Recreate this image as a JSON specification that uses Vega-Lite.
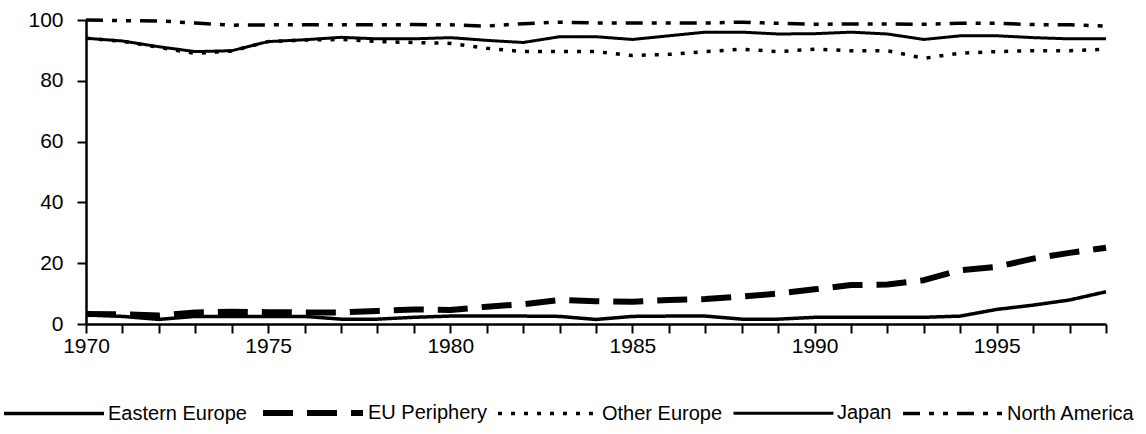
{
  "$schema": "https://vega.github.io/schema/vega-lite/v6.json",
  "width": 1020,
  "height": 304,
  "autosize": {"type": "none"},
  "padding": {"left": 86, "top": 20, "right": 40, "bottom": 110},
  "background": "white",
  "config": {
    "view": {"stroke": null},
    "font": "Liberation Sans",
    "axis": {
      "labelFont": "Liberation Sans",
      "labelFontSize": 21,
      "labelColor": "black",
      "domainColor": "black",
      "domainWidth": 2.5,
      "tickColor": "black",
      "tickWidth": 2,
      "tickSize": 9,
      "grid": false,
      "title": null
    }
  },
  "data": {
    "values": [
      {"year": 1970, "Eastern Europe": 3.0, "EU Periphery": 3.3, "Other Europe": 94.0, "Japan": 94.0, "North America": 100.0},
      {"year": 1971, "Eastern Europe": 2.5, "EU Periphery": 3.2, "Other Europe": 93.0, "Japan": 93.1, "North America": 99.8},
      {"year": 1972, "Eastern Europe": 1.5, "EU Periphery": 2.8, "Other Europe": 91.0, "Japan": 91.2, "North America": 99.7},
      {"year": 1973, "Eastern Europe": 2.5, "EU Periphery": 3.8, "Other Europe": 89.0, "Japan": 89.6, "North America": 99.0},
      {"year": 1974, "Eastern Europe": 2.5, "EU Periphery": 4.0, "Other Europe": 89.8, "Japan": 89.9, "North America": 98.3},
      {"year": 1975, "Eastern Europe": 2.5, "EU Periphery": 3.9, "Other Europe": 92.9, "Japan": 92.9, "North America": 98.4},
      {"year": 1976, "Eastern Europe": 2.5, "EU Periphery": 3.8, "Other Europe": 93.4, "Japan": 93.5, "North America": 98.4},
      {"year": 1977, "Eastern Europe": 1.6, "EU Periphery": 3.8, "Other Europe": 93.6, "Japan": 94.3, "North America": 98.4},
      {"year": 1978, "Eastern Europe": 1.6, "EU Periphery": 4.3, "Other Europe": 92.9, "Japan": 93.8, "North America": 98.4},
      {"year": 1979, "Eastern Europe": 2.2, "EU Periphery": 4.8, "Other Europe": 92.6, "Japan": 93.8, "North America": 98.5},
      {"year": 1980, "Eastern Europe": 2.6, "EU Periphery": 4.6, "Other Europe": 92.3, "Japan": 94.2, "North America": 98.4},
      {"year": 1981, "Eastern Europe": 2.6, "EU Periphery": 5.7, "Other Europe": 90.7, "Japan": 93.3, "North America": 98.0},
      {"year": 1982, "Eastern Europe": 2.6, "EU Periphery": 6.5, "Other Europe": 89.6, "Japan": 92.6, "North America": 98.8},
      {"year": 1983, "Eastern Europe": 2.5, "EU Periphery": 7.9, "Other Europe": 89.6, "Japan": 94.5, "North America": 99.3},
      {"year": 1984, "Eastern Europe": 1.5, "EU Periphery": 7.5, "Other Europe": 89.6, "Japan": 94.5, "North America": 99.0},
      {"year": 1985, "Eastern Europe": 2.5, "EU Periphery": 7.3, "Other Europe": 88.3, "Japan": 93.6, "North America": 99.0},
      {"year": 1986, "Eastern Europe": 2.6, "EU Periphery": 7.9, "Other Europe": 88.7, "Japan": 94.8, "North America": 99.0},
      {"year": 1987, "Eastern Europe": 2.6, "EU Periphery": 8.2, "Other Europe": 89.6, "Japan": 96.0, "North America": 99.0},
      {"year": 1988, "Eastern Europe": 1.6, "EU Periphery": 9.0, "Other Europe": 90.4, "Japan": 96.0, "North America": 99.3},
      {"year": 1989, "Eastern Europe": 1.6, "EU Periphery": 10.0, "Other Europe": 89.6, "Japan": 95.4, "North America": 98.9},
      {"year": 1990, "Eastern Europe": 2.2, "EU Periphery": 11.4, "Other Europe": 90.4, "Japan": 95.5, "North America": 98.6},
      {"year": 1991, "Eastern Europe": 2.2, "EU Periphery": 12.8, "Other Europe": 89.9, "Japan": 96.0, "North America": 98.7},
      {"year": 1992, "Eastern Europe": 2.2, "EU Periphery": 13.0, "Other Europe": 89.9, "Japan": 95.4, "North America": 98.7},
      {"year": 1993, "Eastern Europe": 2.2, "EU Periphery": 14.4, "Other Europe": 87.4, "Japan": 93.6, "North America": 98.6},
      {"year": 1994, "Eastern Europe": 2.6, "EU Periphery": 17.7, "Other Europe": 89.1, "Japan": 94.8, "North America": 98.9},
      {"year": 1995, "Eastern Europe": 4.8, "EU Periphery": 18.8, "Other Europe": 89.6, "Japan": 94.8, "North America": 98.9},
      {"year": 1996, "Eastern Europe": 6.2, "EU Periphery": 21.5, "Other Europe": 89.9, "Japan": 94.2, "North America": 98.5},
      {"year": 1997, "Eastern Europe": 7.9, "EU Periphery": 23.4, "Other Europe": 89.9, "Japan": 93.8, "North America": 98.4},
      {"year": 1998, "Eastern Europe": 10.6, "EU Periphery": 25.1, "Other Europe": 90.4, "Japan": 93.8, "North America": 98.0}
    ]
  },
  "transform": [
    {"fold": ["Eastern Europe", "EU Periphery", "Other Europe", "Japan", "North America"], "as": ["region", "value"]}
  ],
  "mark": {"type": "line", "color": "black", "strokeCap": "butt", "strokeJoin": "round"},
  "encoding": {
    "x": {
      "field": "year",
      "type": "quantitative",
      "scale": {"domain": [1970, 1998], "nice": false, "zero": false},
      "axis": {
        "values": [1970,1971,1972,1973,1974,1975,1976,1977,1978,1979,1980,1981,1982,1983,1984,1985,1986,1987,1988,1989,1990,1991,1992,1993,1994,1995,1996,1997,1998],
        "format": "d",
        "labelExpr": "datum.value % 5 == 0 ? datum.label : ''",
        "labelPadding": 2,
        "labelOverlap": false,
        "labelFlush": false
      }
    },
    "y": {
      "field": "value",
      "type": "quantitative",
      "scale": {"domain": [0, 100], "nice": false},
      "axis": {"values": [0, 20, 40, 60, 80, 100], "labelPadding": 14, "labelFlush": false}
    },
    "detail": {"field": "region"},
    "strokeDash": {
      "field": "region",
      "type": "nominal",
      "scale": {
        "domain": ["Eastern Europe", "EU Periphery", "Other Europe", "Japan", "North America"],
        "range": [[1, 0], [30, 14], [4, 9], [1, 0], [17, 9, 5, 9, 5, 9]]
      },
      "legend": {
        "title": null,
        "orient": "none",
        "direction": "horizontal",
        "legendX": -84,
        "legendY": 340,
        "symbolType": "stroke",
        "symbolSize": 10000,
        "symbolStrokeColor": "black",
        "labelFont": "Liberation Sans",
        "labelFontSize": 20,
        "labelColor": "black",
        "labelOffset": 2,
        "columnPadding": 4,
        "labelLimit": 400,
        "encode": {
          "symbols": {
            "update": {
              "strokeWidth": {"signal": "datum.value == 'EU Periphery' ? 5.5 : datum.value == 'Eastern Europe' ? 3.5 : datum.value == 'Japan' ? 2.6 : datum.value == 'Other Europe' ? 1.6 : 2"}
            }
          }
        }
      }
    },
    "strokeWidth": {
      "field": "region",
      "type": "nominal",
      "scale": {
        "type": "ordinal",
        "domain": ["Eastern Europe", "EU Periphery", "Other Europe", "Japan", "North America"],
        "range": [3.5, 6, 3.5, 3, 3.5]
      },
      "legend": {
        "title": null,
        "orient": "none",
        "direction": "horizontal",
        "legendX": -84,
        "legendY": 340,
        "symbolType": "stroke",
        "symbolSize": 10000,
        "symbolStrokeColor": "black",
        "labelFont": "Liberation Sans",
        "labelFontSize": 20,
        "labelColor": "black",
        "labelOffset": 2,
        "columnPadding": 4,
        "labelLimit": 400,
        "encode": {
          "symbols": {
            "update": {
              "strokeWidth": {"signal": "datum.value == 'EU Periphery' ? 5.5 : datum.value == 'Eastern Europe' ? 3.5 : datum.value == 'Japan' ? 2.6 : datum.value == 'Other Europe' ? 1.6 : 2"}
            }
          }
        }
      }
    }
  }
}
